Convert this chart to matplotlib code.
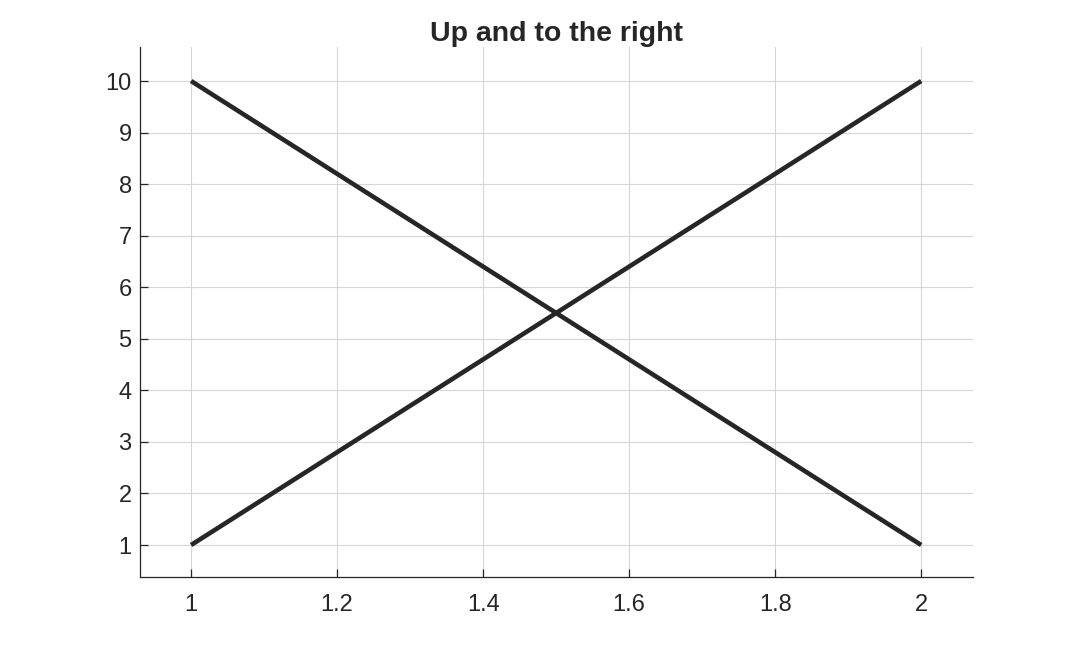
import matplotlib
matplotlib.use("Agg")
import matplotlib.pyplot as plt

x_up = [1, 2]
y_up = [1, 10]
x_down = [1, 2]
y_down = [10, 1]
x_ticks = [1, 1.2, 1.4, 1.6, 1.8, 2]
x_labels = ["1", "1.2", "1.4", "1.6", "1.8", "2"]
y_ticks = list(range(1, 11))

plt.rcParams.update({
    "font.family": ["Liberation Sans", "DejaVu Sans"],
    "font.size": 17,
})

fig = plt.figure(figsize=(10.76, 6.48), dpi=100, facecolor="white")
ax = fig.add_axes([0.1301, 0.1096, 0.7742, 0.8179])

line_color = "#262626"
ax.plot(x_up, y_up, color=line_color, linewidth=3.3, solid_capstyle="butt")
ax.plot(x_down, y_down, color=line_color, linewidth=3.3, solid_capstyle="butt")

ax.set_xlim(0.930, 2.071)
ax.set_ylim(0.38, 10.66)
ax.set_xticks(x_ticks)
ax.set_xticklabels(x_labels)
ax.set_yticks(y_ticks)
ax.grid(True, color="#D6D6D6", linewidth=0.8)
ax.set_axisbelow(True)
ax.spines[["top", "right"]].set_visible(False)
for side in ("left", "bottom"):
    ax.spines[side].set_color(line_color)
    ax.spines[side].set_linewidth(0.9)
ax.tick_params(direction="in", length=6, width=0.9, color=line_color,
               labelcolor=line_color)
ax.tick_params(axis="x", pad=12)
ax.tick_params(axis="y", pad=6)
ax.set_title("Up and to the right", fontsize=20.5, fontweight="bold",
             color=line_color, pad=4)

fig.savefig("out.png", dpi=100, facecolor="white")
